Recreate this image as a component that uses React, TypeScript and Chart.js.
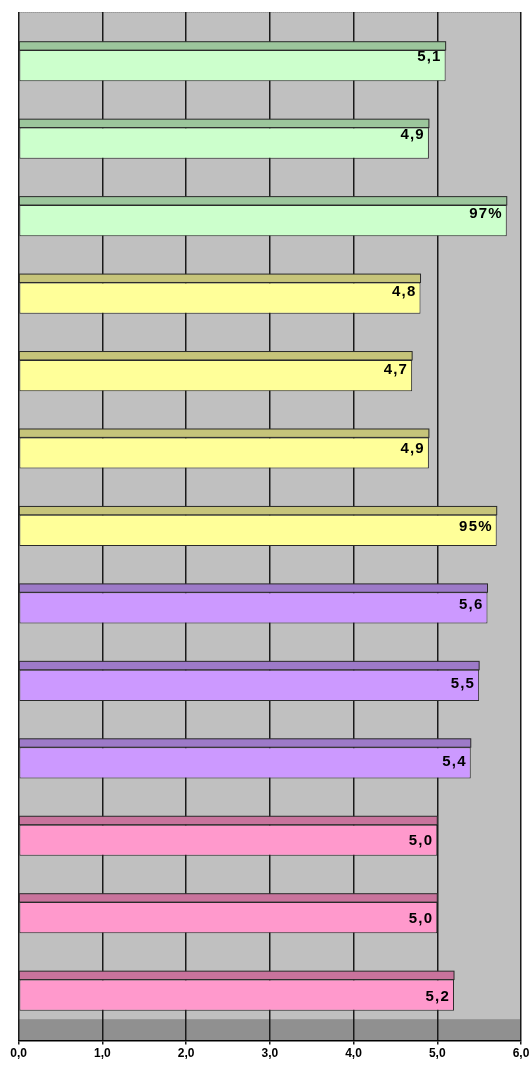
import React, { useEffect, useRef } from "react";
import { Chart, registerables } from "chart.js";

Chart.register(...registerables);

const categories = ["A1", "A2", "A3", "B1", "B2", "B3", "B4", "C1", "C2", "C3", "D1", "D2", "D3"];
const values = [5.1, 4.9, 5.83, 4.8, 4.7, 4.9, 5.71, 5.6, 5.5, 5.4, 5.0, 5.0, 5.2];
const valueLabels = ["5,1", "4,9", "97%", "4,8", "4,7", "4,9", "95%", "5,6", "5,5", "5,4", "5,0", "5,0", "5,2"];
const groups = [0, 0, 0, 1, 1, 1, 1, 2, 2, 2, 3, 3, 3];
const frontColors = ["#ccffcc", "#ffff99", "#cc99ff", "#ff99cc"];
const topColors = ["#9cc69c", "#c6c47a", "#9d7ac8", "#c8739c"];
const xTicks = [0, 1, 2, 3, 4, 5, 6];

const FONT = "'Liberation Sans', Arial, sans-serif";

const plot3d = {
  id: "plot3d",
  afterLayout(chart: any) {
    const y = chart.scales.y;
    const area = chart.chartArea;
    y.top = area.top + 15;
    y.bottom = area.bottom - 6.6;
    y.configure();
  },
  beforeDraw(chart: any) {
    const { ctx, chartArea: a } = chart;
    ctx.save();
    ctx.fillStyle = "#c0c0c0";
    ctx.fillRect(a.left, a.top, a.right - a.left, a.bottom - a.top);
    ctx.fillStyle = "#909090";
    ctx.fillRect(a.left, a.bottom - 21.3, a.right - a.left, 21.3);
    ctx.strokeStyle = "#808080";
    ctx.setLineDash([1, 1]);
    ctx.lineWidth = 1;
    ctx.beginPath();
    ctx.moveTo(a.left, a.top + 0.5);
    ctx.lineTo(a.right, a.top + 0.5);
    ctx.stroke();
    ctx.restore();
  },
  beforeDatasetsDraw(chart: any) {
    const { ctx } = chart;
    const meta = chart.getDatasetMeta(0);
    ctx.save();
    meta.data.forEach((bar: any, i: number) => {
      const h = bar.height;
      const top = bar.y - h / 2;
      const depth = 8.4;
      ctx.fillStyle = topColors[groups[i]];
      ctx.strokeStyle = "#2a2a2a";
      ctx.lineWidth = 1;
      ctx.fillRect(bar.base, top - depth, bar.x - bar.base, depth);
      ctx.strokeRect(bar.base, top - depth, bar.x - bar.base, depth);
    });
    ctx.restore();
  },
  afterDatasetsDraw(chart: any) {
    const { ctx } = chart;
    const meta = chart.getDatasetMeta(0);
    const n = meta.data.length;
    ctx.save();
    ctx.font = `bold 15px ${FONT}`;
    (ctx as any).letterSpacing = "1.2px";
    ctx.fillStyle = "#000";
    ctx.textAlign = "right";
    ctx.textBaseline = "middle";
    meta.data.forEach((bar: any, i: number) => {
      const off = -9 + (11 * i) / (n - 1);
      ctx.fillText(valueLabels[i], bar.x - 4, bar.y + off);
    });
    ctx.restore();
  },
};

export default function App() {
  const ref = useRef<HTMLCanvasElement | null>(null);
  useEffect(() => {
    document.body.style.margin = "0";
    const chart = new Chart(ref.current as HTMLCanvasElement, {
      type: "bar",
      data: {
        labels: categories,
        datasets: [
          {
            data: values,
            backgroundColor: groups.map((g) => frontColors[g]),
            borderColor: "#2a2a2a",
            borderWidth: 1,
            borderSkipped: false,
            categoryPercentage: 1,
            barPercentage: 0.403,
          },
        ],
      },
      options: {
        indexAxis: "y",
        animation: false,
        responsive: false,
        events: [],
        layout: { padding: { left: 18.6, right: 10, top: 12, bottom: 2.5 } },
        plugins: { legend: { display: false }, tooltip: { enabled: false } },
        scales: {
          y: { display: false, offset: true },
          x: {
            min: 0,
            max: 6,
            afterBuildTicks: (scale: any) => {
              scale.ticks = xTicks.map((v) => ({ value: v }));
            },
            afterFit: (scale: any) => {
              scale.paddingLeft = 0;
              scale.paddingRight = 0;
            },
            grid: { color: "#1a1a1a", lineWidth: 1.5, tickLength: 4, drawTicks: true },
            border: { display: true, color: "#000", width: 1.5 },
            ticks: {
              padding: 3.5,
              color: "#000",
              font: { family: FONT, size: 12, weight: "bold", lineHeight: 1 },
              maxRotation: 0,
              callback: (v: any) => Number(v).toFixed(1).replace(".", ","),
            },
          },
        },
      },
      plugins: [plot3d],
    } as any);
    return () => chart.destroy();
  }, []);
  return (
    <div style={{ position: "fixed", left: 0, top: 0, width: 531, height: 1066, background: "#fff" }}>
      <canvas ref={ref} width={531} height={1066} style={{ width: 531, height: 1066 }} />
    </div>
  );
}
